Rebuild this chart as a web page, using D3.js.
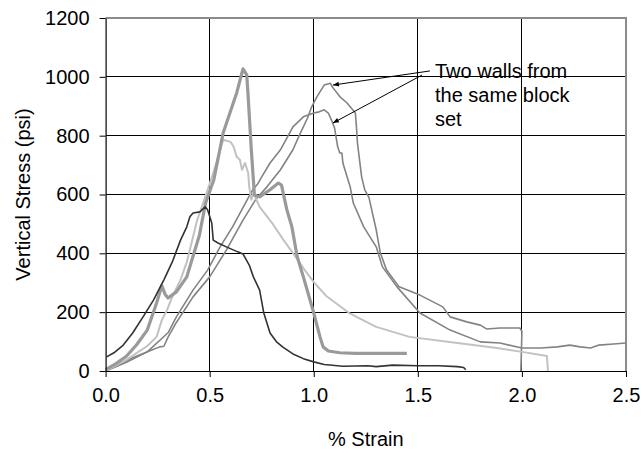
<!DOCTYPE html>
<html>
<head>
<meta charset="utf-8">
<script src="https://cdn.jsdelivr.net/npm/d3@7"></script>
<style>
  html, body { margin: 0; padding: 0; background: #fff; }
  svg { display: block; }
  text { font-family: "Liberation Sans", Arial, sans-serif; fill: #000; }
</style>
</head>
<body>
<svg id="chart" width="642" height="455"></svg>
<script>
// ---- data (strain in %, stress in psi) ----
const xTicks = [0, 0.5, 1.0, 1.5, 2.0, 2.5];
const yTicks = [0, 200, 400, 600, 800, 1000, 1200];

const darkStrain = [0.005, 0.04, 0.085, 0.13, 0.18, 0.23, 0.28, 0.32, 0.36, 0.39, 0.405, 0.42, 0.453, 0.478, 0.49, 0.51, 0.517, 0.54, 0.58, 0.635, 0.66, 0.69, 0.71, 0.74, 0.76, 0.79, 0.82, 0.85, 0.9, 0.95, 1.0, 1.05, 1.14, 1.26, 1.3, 1.38, 1.5, 1.6, 1.69, 1.72, 1.73];
const darkStress = [48, 62, 88, 129, 184, 241, 310, 370, 445, 490, 524, 537, 541, 558, 548, 503, 445, 435, 422, 405, 398, 360, 320, 275, 197, 129, 100, 82, 58, 42, 31, 22, 16, 18, 15, 20, 18, 18, 15, 12, 4];

const thickStrain = [0, 0.05, 0.1, 0.15, 0.2, 0.245, 0.27, 0.285, 0.3, 0.34, 0.39, 0.45, 0.48, 0.52, 0.565, 0.63, 0.66, 0.678, 0.685, 0.7, 0.715, 0.74, 0.79, 0.83, 0.845, 0.87, 0.895, 0.92, 0.95, 1.0, 1.03, 1.045, 1.07, 1.125, 1.2, 1.3, 1.447];
const thickStress = [5, 25, 50, 90, 139, 231, 290, 262, 248, 269, 320, 460, 570, 650, 810, 946, 1027, 1007, 932, 752, 598, 592, 616, 639, 632, 550, 490, 390, 320, 197, 116, 82, 68, 62, 60, 60, 60];

const lightStrain = [0, 0.1, 0.2, 0.245, 0.27, 0.295, 0.32, 0.36, 0.39, 0.44, 0.485, 0.52, 0.565, 0.6, 0.615, 0.63, 0.645, 0.655, 0.67, 0.685, 0.69, 0.7, 0.71, 0.74, 0.8, 0.855, 0.9, 0.95, 1.0, 1.06, 1.17, 1.3, 1.46, 1.69, 1.88, 2.0, 2.12, 2.125];
const lightStress = [0, 38, 85, 116, 173, 207, 252, 310, 370, 513, 605, 680, 786, 779, 762, 728, 718, 684, 707, 673, 626, 582, 605, 558, 503, 445, 401, 350, 302, 255, 197, 150, 116, 95, 78, 65, 51, 0];

const wallAStrain = [0, 0.07, 0.13, 0.21, 0.26, 0.28, 0.3, 0.34, 0.42, 0.5, 0.58, 0.66, 0.72, 0.775, 0.84, 0.9, 0.93, 0.97, 0.99, 1.015, 1.05, 1.08, 1.09, 1.126, 1.16, 1.18, 1.2, 1.205, 1.21, 1.22, 1.23, 1.245, 1.265, 1.3, 1.32, 1.35, 1.41, 1.51, 1.62, 1.655, 1.735, 1.8, 1.83, 1.895, 1.99, 2.0, 1.995];
const wallAStress = [0, 22, 45, 68, 82, 84, 115, 165, 252, 320, 411, 513, 582, 626, 684, 752, 800, 860, 898, 932, 972, 978, 965, 932, 911, 894, 877, 830, 775, 717, 660, 616, 590, 480, 401, 343, 286, 258, 218, 184, 167, 156, 143, 146, 146, 135, 0];

const wallBStrain = [0, 0.1, 0.2, 0.3, 0.34, 0.42, 0.49, 0.55, 0.61, 0.68, 0.71, 0.73, 0.75, 0.79, 0.84, 0.9, 0.95, 1.0, 1.02, 1.05, 1.07, 1.085, 1.1, 1.115, 1.125, 1.135, 1.14, 1.16, 1.175, 1.19, 1.24, 1.3, 1.33, 1.4, 1.51, 1.655, 1.8, 1.895, 2.0, 2.09, 2.17, 2.23, 2.28, 2.33, 2.37, 2.44, 2.5];
const wallBStress = [0, 30, 65, 130, 184, 275, 343, 422, 490, 582, 620, 635, 660, 707, 752, 830, 864, 877, 880, 888, 877, 853, 826, 762, 741, 741, 707, 660, 626, 571, 490, 422, 354, 286, 197, 139, 99, 95, 78, 78, 82, 88, 82, 78, 88, 92, 95];

const noteLines = ["Two walls from", "the same block", "set"];
const arrowFrom = [[1.558, 1020], [1.52, 1006]];
const arrowTo = [[1.092, 972], [1.092, 843]];

// ---- layout ----
const svg = d3.select("#chart");
const pL = 105.6, pR = 626, pT = 18, pB = 371;
const x = d3.scaleLinear().domain([0, 2.5]).range([pL, pR]);
const y = d3.scaleLinear().domain([0, 1200]).range([pB, pT]);
const fontSize = 20;

// gridlines
const grid = svg.append("g").attr("shape-rendering", "crispEdges");
grid.selectAll("line.h").data(yTicks.filter(v => v > 0 && v < 1200)).join("line")
  .attr("x1", pL).attr("x2", pR).attr("y1", d => y(d)).attr("y2", d => y(d))
  .attr("stroke", "#000").attr("stroke-width", 1);
grid.selectAll("line.v").data(xTicks.filter(v => v > 0 && v < 2.5)).join("line")
  .attr("y1", pT).attr("y2", pB).attr("x1", d => x(d)).attr("x2", d => x(d))
  .attr("stroke", "#000").attr("stroke-width", 1);

// plot border (top and right)
svg.append("path")
  .attr("d", `M${pL},${pT}H${pR}V${pB}`)
  .attr("fill", "none").attr("stroke", "#8c8c8c").attr("stroke-width", 2);

// series
const series = [
  { sx: wallAStrain, sy: wallAStress, color: "#838383", w: 1.6 },
  { sx: wallBStrain, sy: wallBStress, color: "#838383", w: 1.6 },
  { sx: lightStrain, sy: lightStress, color: "#c2c2c2", w: 2 },
  { sx: thickStrain, sy: thickStress, color: "#9a9a9a", w: 3.2 },
  { sx: darkStrain, sy: darkStress, color: "#333333", w: 1.6 }
];
const line = d3.line().x(d => x(d[0])).y(d => y(d[1]));
svg.append("g").selectAll("path").data(series).join("path")
  .attr("d", s => line(s.sx.map((v, i) => [v, s.sy[i]])))
  .attr("fill", "none")
  .attr("stroke", s => s.color)
  .attr("stroke-width", s => s.w)
  .attr("stroke-linejoin", "round");

// axes
const yAxis = svg.append("g").attr("transform", `translate(${pL},0)`)
  .call(d3.axisLeft(y).tickValues(yTicks).tickSize(6).tickSizeOuter(0).tickPadding(10).tickFormat(d3.format("d")));
const xAxis = svg.append("g").attr("transform", `translate(0,${pB})`)
  .call(d3.axisBottom(x).tickValues(xTicks).tickSize(6).tickSizeOuter(0).tickPadding(11).tickFormat(d3.format(".1f")));
[yAxis, xAxis].forEach(a => {
  a.selectAll("path.domain").attr("stroke", "#000").attr("stroke-width", 1.2);
  a.selectAll(".tick line").attr("stroke", "#000");
  a.selectAll("text").style("font-size", fontSize + "px").style("font-family", '"Liberation Sans", Arial, sans-serif').attr("fill", "#000");
});

// axis titles
svg.append("text").attr("x", (pL + pR) / 2).attr("y", 446)
  .attr("text-anchor", "middle").style("font-size", fontSize + "px").text("% Strain");
svg.append("text").attr("transform", `translate(30,${(pT + pB) / 2}) rotate(-90)`)
  .attr("text-anchor", "middle").style("font-size", fontSize + "px").text("Vertical Stress (psi)");

// annotation
svg.append("defs").append("marker").attr("id", "ah")
  .attr("viewBox", "0 0 10 10").attr("refX", 10).attr("refY", 5)
  .attr("markerWidth", 7).attr("markerHeight", 6).attr("orient", "auto")
  .append("path").attr("d", "M0,1L10,5L0,9Z").attr("fill", "#000");
svg.append("g").selectAll("line").data(arrowFrom).join("line")
  .attr("x1", (d) => x(d[0])).attr("y1", d => y(d[1]))
  .attr("x2", (d, i) => x(arrowTo[i][0])).attr("y2", (d, i) => y(arrowTo[i][1]))
  .attr("stroke", "#000").attr("stroke-width", 1).attr("marker-end", "url(#ah)");
svg.append("g").selectAll("text").data(noteLines).join("text")
  .attr("x", 435).attr("y", (d, i) => 78 + i * 24)
  .style("font-size", fontSize + "px").text(d => d);
</script>
</body>
</html>
